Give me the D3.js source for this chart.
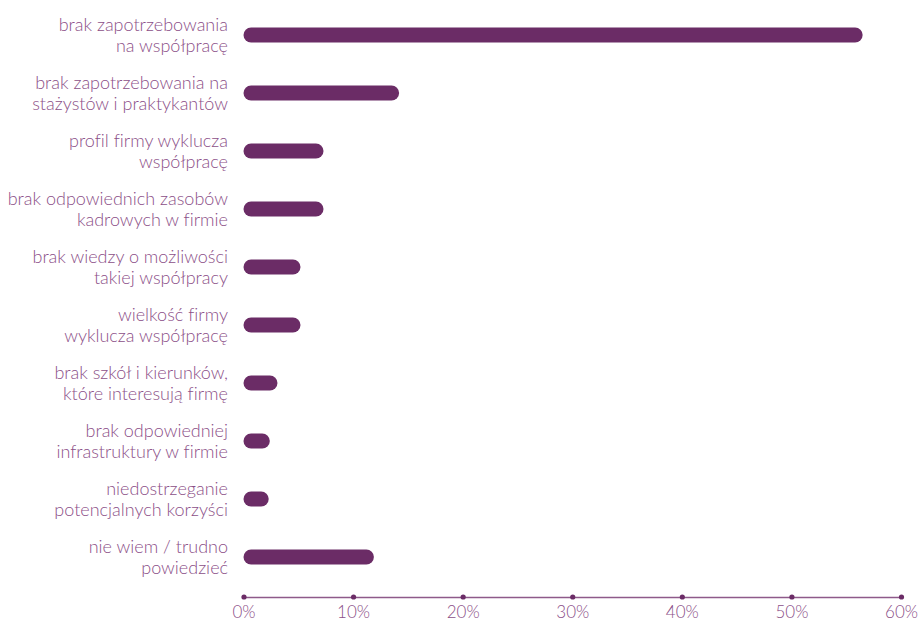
<!DOCTYPE html>
<html>
<head>
<meta charset="utf-8">
<script src="https://cdn.jsdelivr.net/npm/d3@7"></script>
<style>
  html, body { margin: 0; padding: 0; background: #fff; }
  svg { display: block; }
  text { font-family: Lato, "Open Sans", sans-serif; font-weight: 300; font-variant-ligatures: none; }
</style>
</head>
<body>
<svg id="chart" width="922" height="621"></svg>
<script>
// Reasons for not cooperating (share of firms, %)
const categories = [
  ["brak zapotrzebowania", "na współpracę"],
  ["brak zapotrzebowania na", "stażystów i praktykantów"],
  ["profil firmy wyklucza", "współpracę"],
  ["brak odpowiednich zasobów", "kadrowych w firmie"],
  ["brak wiedzy o możliwości", "takiej współpracy"],
  ["wielkość firmy", "wyklucza współpracę"],
  ["brak szkół i kierunków,", "które interesują firmę"],
  ["brak odpowiedniej", "infrastruktury w firmie"],
  ["niedostrzeganie", "potencjalnych korzyści"],
  ["nie wiem / trudno", "powiedzieć"]
];
const values = [56.5, 14.2, 7.3, 7.3, 5.2, 5.2, 3.1, 2.4, 2.3, 11.9];
const tickValues = [0, 10, 20, 30, 40, 50, 60];

const svg = d3.select("#chart");
const barColor = "#6b2c66";
const axisColor = "#8e5a8a";
const textColor = "#8c4f88";

const x = d3.scaleLinear().domain([0, 60]).range([243.5, 901]);
const y = d3.scaleBand()
  .domain(d3.range(categories.length))
  .range([6, 586])
  .paddingInner(0.74)
  .paddingOuter(0.37);

const barH = y.bandwidth();

// bars with fully rounded ends
svg.append("g")
  .selectAll("rect")
  .data(values)
  .join("rect")
  .attr("x", x(0))
  .attr("y", (d, i) => y(i))
  .attr("width", d => x(d) - x(0))
  .attr("height", barH)
  .attr("rx", barH / 2)
  .attr("fill", barColor);

// two-line category labels, right aligned
const labels = svg.append("g")
  .selectAll("text")
  .data(categories)
  .join("text")
  .attr("text-anchor", "end")
  .attr("fill", textColor)
  .attr("font-size", 18)
  .attr("x", 228)
  .attr("y", (d, i) => y(i) + barH / 2);
labels.selectAll("tspan")
  .data(d => d)
  .join("tspan")
  .attr("x", 228)
  .attr("dy", (d, j) => j === 0 ? "-0.2em" : "1.17em")
  .text(d => d);

// x axis: thin line with dot ticks
const axisY = 597;
const axis = d3.axisBottom(x)
  .tickValues(tickValues)
  .tickSize(0)
  .tickPadding(9)
  .tickFormat(d => d + "%");
const gx = svg.append("g")
  .attr("transform", `translate(0,${axisY})`)
  .call(axis);
gx.select(".domain").attr("stroke", axisColor).attr("stroke-width", 1.5);
gx.selectAll(".tick text")
  .attr("fill", textColor)
  .attr("font-size", 17)
  .attr("font-family", "Lato, sans-serif")
  .attr("font-weight", 300);
gx.selectAll(".tick")
  .append("circle")
  .attr("r", 2.6)
  .attr("fill", barColor);
</script>
</body>
</html>
